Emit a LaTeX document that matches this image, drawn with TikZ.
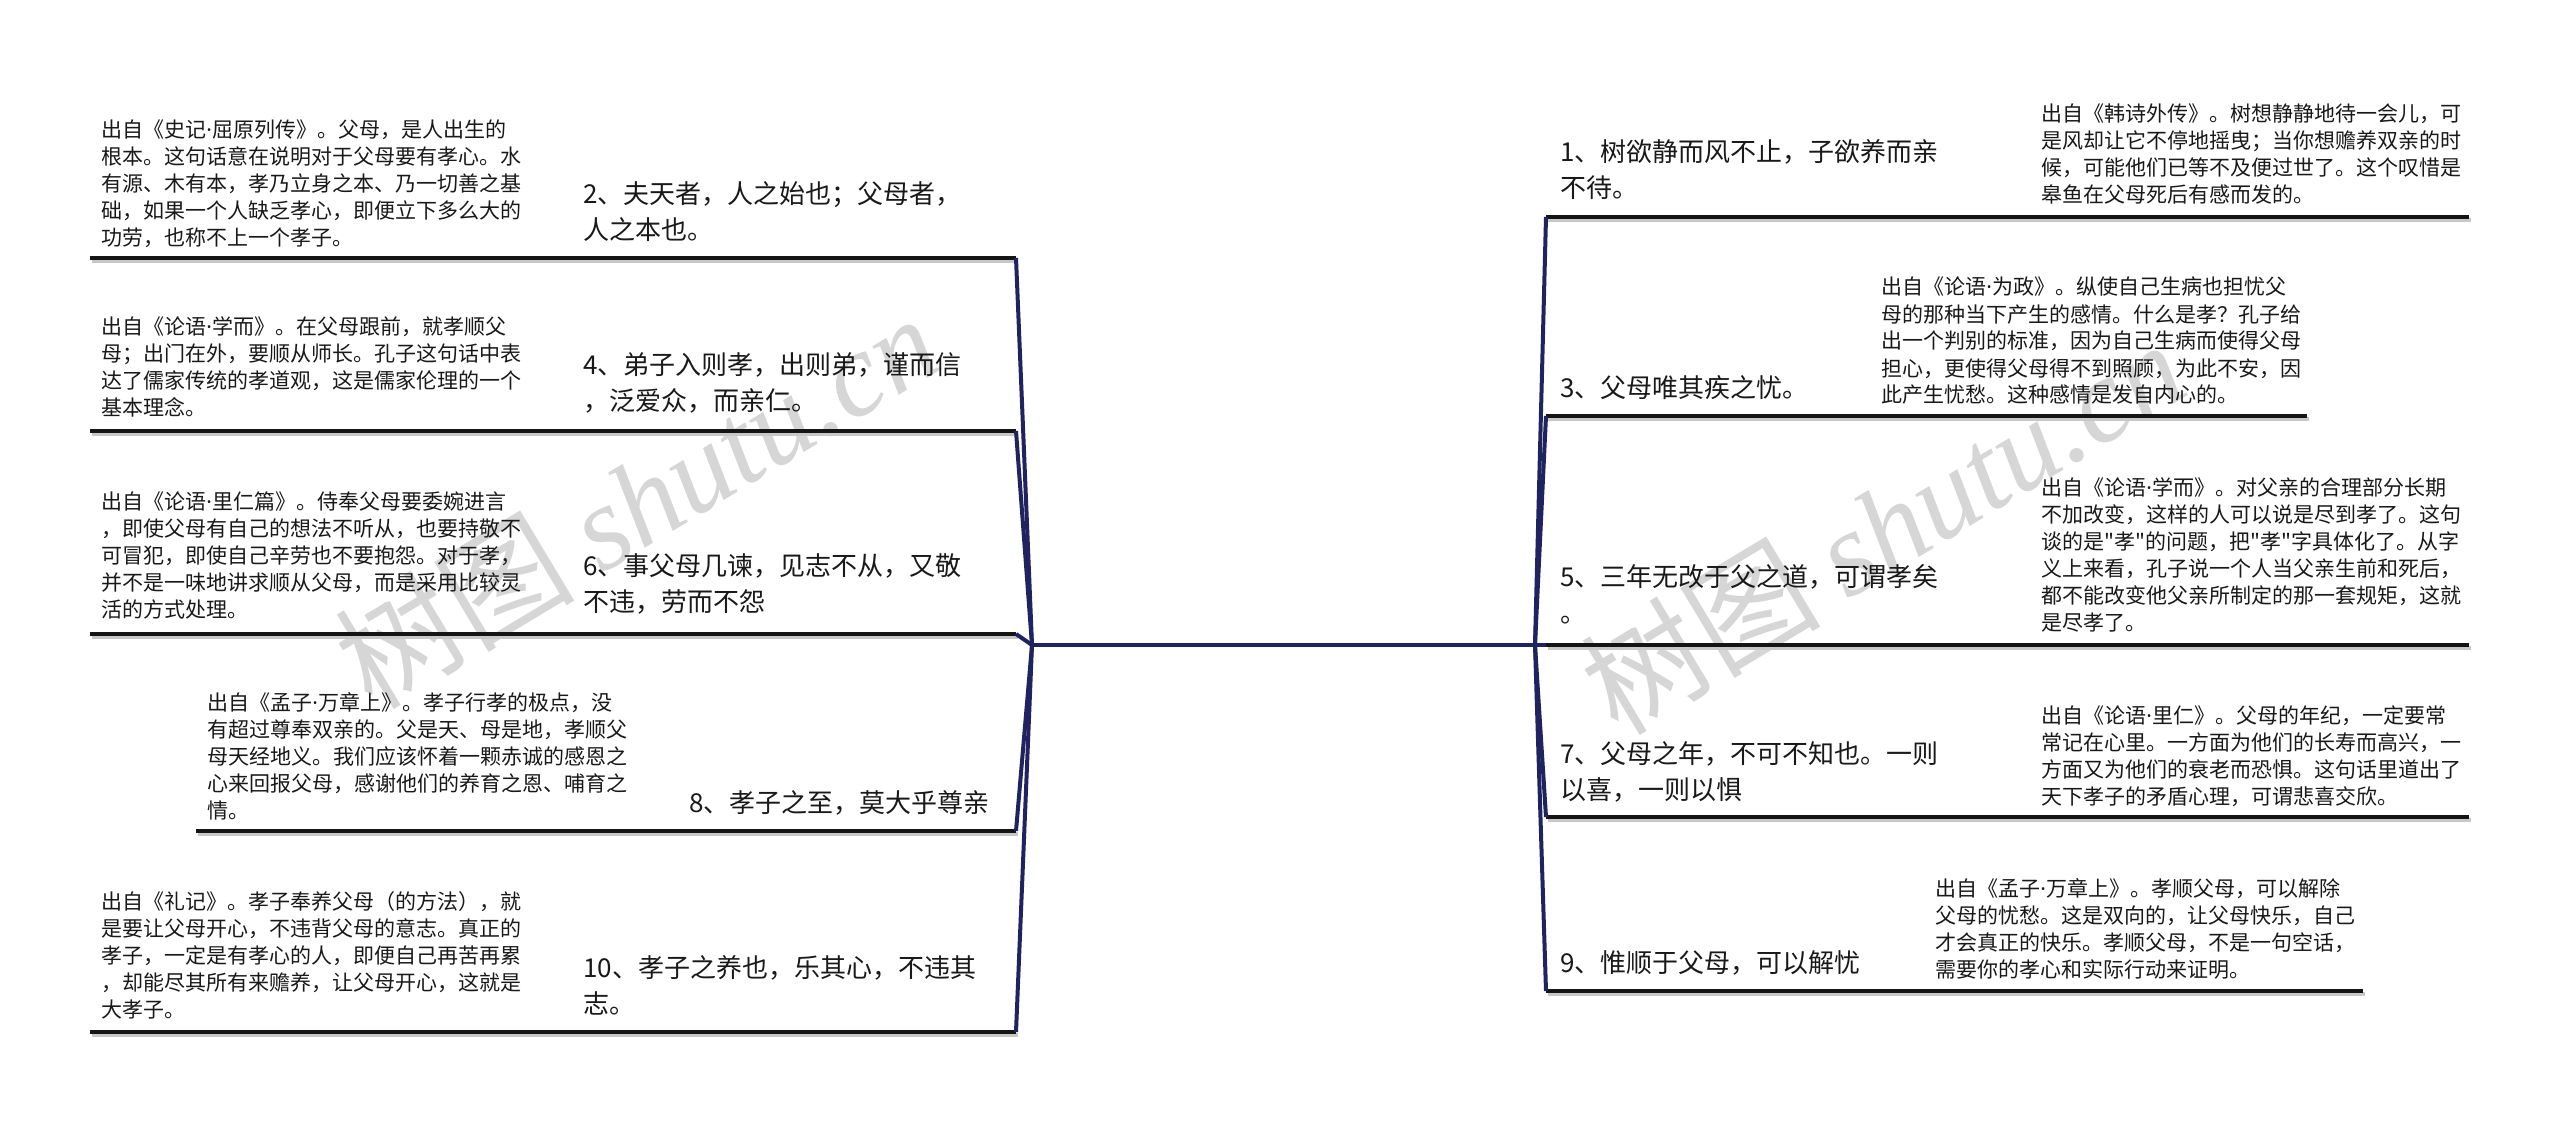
\documentclass[tikz,border=0pt]{standalone}
\usepackage{fontspec}
\setmainfont{Noto Sans CJK SC}
\newfontfamily\cjkplain{Noto Sans CJK SC}
\newfontfamily\latinsans{Noto Sans}
\newfontfamily\wmlatin{Liberation Serif}
\newcommand\mydot{{\latinsans ·}}
\newcommand\myquote{{\cjkplain\symbol{34}}}
\definecolor{navy}{HTML}{1F2460}
\definecolor{wmgray}{HTML}{D6D6D6}
\tikzset{
  detail/.style={anchor=base west, inner sep=0pt, text width=300pt, align=left,
    font=\cjkplain\fontsize{10.5}{13.5}\selectfont, text=black!90},
  topic/.style={anchor=base west, inner sep=0pt, text width=300pt, align=left,
    font=\cjkplain\fontsize{13}{18}\selectfont, text=black!90},
  uline/.style={line width=2pt, draw=black!92},
  ushadow/.style={line width=1.6pt, draw=black!22},
  conn/.style={line width=2pt, draw=navy},
  wm/.style={inner sep=0pt, text=wmgray, font=\fontsize{60}{66}\selectfont},
}
\begin{document}
\begin{tikzpicture}[x=0.5pt, y=-0.5pt]
\useasboundingbox (0,0) rectangle (2560,1123);
\fill[white] (0,0) rectangle (2560,1123);

% watermarks
\node[wm, rotate=31] (wmL) at (636,500) {树图 {\wmlatin\itshape shutu.cn}};
\node[wm, rotate=31] (wmR) at (1882,526) {树图 {\wmlatin\itshape shutu.cn}};

% hubs
\coordinate (hubL) at (1032,645);
\coordinate (hubR) at (1535,645);

% left underline ends
\coordinate (L2a) at (90,258);   \coordinate (L2b) at (1016,258);
\coordinate (L4a) at (90,431);   \coordinate (L4b) at (1016,431);
\coordinate (L6a) at (90,634);   \coordinate (L6b) at (1016,634);
\coordinate (L8a) at (196,831);  \coordinate (L8b) at (1016,831);
\coordinate (L10a) at (90,1032); \coordinate (L10b) at (1016,1032);
% right underline ends
\coordinate (R1a) at (1546,217); \coordinate (R1b) at (2469,217);
\coordinate (R3a) at (1546,416); \coordinate (R3b) at (2307,416);
\coordinate (R5a) at (1546,645); \coordinate (R5b) at (2469,645);
\coordinate (R7a) at (1546,817); \coordinate (R7b) at (2469,817);
\coordinate (R9a) at (1546,991); \coordinate (R9b) at (2363,991);

% shadows
\foreach \a/\b in {L2a/L2b,L4a/L4b,L6a/L6b,L8a/L8b,L10a/L10b,R1a/R1b,R3a/R3b,R5a/R5b,R7a/R7b,R9a/R9b}
  \draw[ushadow] ([shift={(2,3)}]\a) -- ([shift={(2,3)}]\b);
% underlines
\foreach \a/\b in {L2a/L2b,L4a/L4b,L6a/L6b,L8a/L8b,L10a/L10b,R1a/R1b,R3a/R3b,R5a/R5b,R7a/R7b,R9a/R9b}
  \draw[uline] (\a) -- (\b);

% connectors
\draw[conn] (hubL) -- (hubR);
\foreach \e in {L2b,L4b,L6b,L8b,L10b} \draw[conn] (hubL) -- (\e);
\foreach \e in {R1a,R3a,R5a,R7a,R9a} \draw[conn] (hubR) -- (\e);

% left details
\node[detail] (d2) at (101,138) {出自《史记\mydot 屈原列传》。父母，是人出生的\\根本。这句话意在说明对于父母要有孝心。水\\有源、木有本，孝乃立身之本、乃一切善之基\\础，如果一个人缺乏孝心，即便立下多么大的\\功劳，也称不上一个孝子。};
\node[detail] (d4) at (101,335) {出自《论语\mydot 学而》。在父母跟前，就孝顺父\\母；出门在外，要顺从师长。孔子这句话中表\\达了儒家传统的孝道观，这是儒家伦理的一个\\基本理念。};
\node[detail] (d6) at (101,509) {出自《论语\mydot 里仁篇》。侍奉父母要委婉进言\\，即使父母有自己的想法不听从，也要持敬不\\可冒犯，即使自己辛劳也不要抱怨。对于孝，\\并不是一味地讲求顺从父母，而是采用比较灵\\活的方式处理。};
\node[detail] (d8) at (207,710) {出自《孟子\mydot 万章上》。孝子行孝的极点，没\\有超过尊奉双亲的。父是天、母是地，孝顺父\\母天经地义。我们应该怀着一颗赤诚的感恩之\\心来回报父母，感谢他们的养育之恩、哺育之\\情。};
\node[detail] (d10) at (101,909) {出自《礼记》。孝子奉养父母（的方法），就\\是要让父母开心，不违背父母的意志。真正的\\孝子，一定是有孝心的人，即便自己再苦再累\\，却能尽其所有来赡养，让父母开心，这就是\\大孝子。};

% left topics
\node[topic] (t2) at (583,204) {2、夫天者，人之始也；父母者，\\人之本也。};
\node[topic] (t4) at (583,374) {4、弟子入则孝，出则弟，谨而信\\，泛爱众，而亲仁。};
\node[topic] (t6) at (583,575) {6、事父母几谏，见志不从，又敬\\不违，劳而不怨};
\node[topic] (t8) at (689,812) {8、孝子之至，莫大乎尊亲};
\node[topic] (t10) at (583,977) {10、孝子之养也，乐其心，不违其\\志。};

% right topics
\node[topic] (t1) at (1560,162) {1、树欲静而风不止，子欲养而亲\\不待。};
\node[topic] (t3) at (1560,397) {3、父母唯其疾之忧。};
\node[topic] (t5) at (1560,586) {5、三年无改于父之道，可谓孝矣\\。};
\node[topic] (t7) at (1560,763) {7、父母之年，不可不知也。一则\\以喜，一则以惧};
\node[topic] (t9) at (1560,972) {9、惟顺于父母，可以解忧};

% right details
\node[detail] (d1) at (2041,122) {出自《韩诗外传》。树想静静地待一会儿，可\\是风却让它不停地摇曳；当你想赡养双亲的时\\候，可能他们已等不及便过世了。这个叹惜是\\皋鱼在父母死后有感而发的。};
\node[detail] (d3) at (1881,295) {出自《论语\mydot 为政》。纵使自己生病也担忧父\\母的那种当下产生的感情。什么是孝？孔子给\\出一个判别的标准，因为自己生病而使得父母\\担心，更使得父母得不到照顾，为此不安，因\\此产生忧愁。这种感情是发自内心的。};
\node[detail] (d5) at (2041,495) {出自《论语\mydot 学而》。对父亲的合理部分长期\\不加改变，这样的人可以说是尽到孝了。这句\\谈的是\myquote 孝\myquote 的问题，把\myquote 孝\myquote 字具体化了。从字\\义上来看，孔子说一个人当父亲生前和死后，\\都不能改变他父亲所制定的那一套规矩，这就\\是尽孝了。};
\node[detail] (d7) at (2041,723) {出自《论语\mydot 里仁》。父母的年纪，一定要常\\常记在心里。一方面为他们的长寿而高兴，一\\方面又为他们的衰老而恐惧。这句话里道出了\\天下孝子的矛盾心理，可谓悲喜交欣。};
\node[detail] (d9) at (1935,896) {出自《孟子\mydot 万章上》。孝顺父母，可以解除\\父母的忧愁。这是双向的，让父母快乐，自己\\才会真正的快乐。孝顺父母，不是一句空话，\\需要你的孝心和实际行动来证明。};
\end{tikzpicture}
\end{document}
